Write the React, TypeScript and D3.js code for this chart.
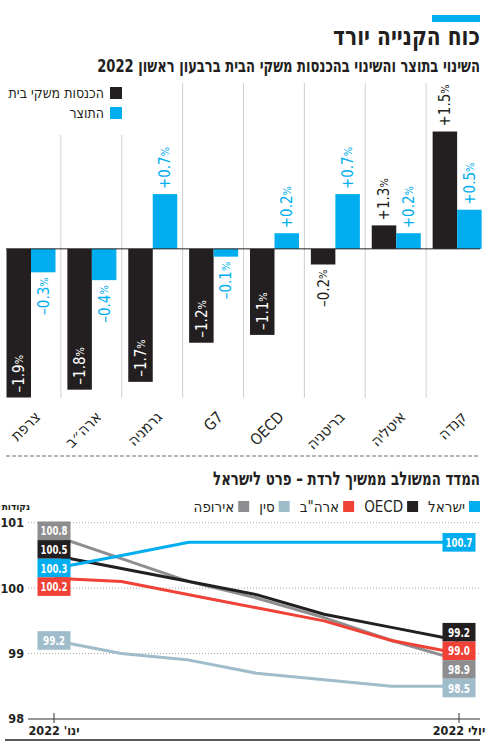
import React, { useEffect, useRef } from "react";
import * as d3 from "d3";

// ---------- Top chart data ----------
const categories = ["צרפת", "ארה״ב", "גרמניה", "G7", "OECD", "בריטניה", "איטליה", "קנדה"];
// household income change (bar heights as drawn)
const incomeChange = [-1.9, -1.8, -1.7, -1.2, -1.1, -0.2, 0.3, 1.5];
// labels as printed
const incomeLabels = ["–1.9", "–1.8", "–1.7", "–1.2", "–1.1", "–0.2", "+1.3", "+1.5"];
// GDP change
const gdpChange = [-0.3, -0.4, 0.7, -0.1, 0.2, 0.7, 0.2, 0.5];
const barLegend = ["הכנסות משקי בית", "התוצר"];

// ---------- Bottom chart data ----------
const months = ["ינו'", "פבר'", "מרץ", "אפר'", "מאי", "יוני", "יולי"];
const xTickIdx = [0, 6];
const xTickLabels = ["ינו' 2022", "יולי 2022"];
const yTicks = [98, 99, 100, 101];
const seriesNames = ["ישראל", "OECD", 'ארה"ב', "סין", "אירופה"];
const israel = [100.3, 100.5, 100.7, 100.7, 100.7, 100.7, 100.7];
const oecd = [100.5, 100.3, 100.1, 99.9, 99.6, 99.4, 99.2];
const usa = [100.15, 100.1, 99.9, 99.7, 99.5, 99.2, 99.0];
const china = [99.2, 99.0, 98.9, 98.7, 98.6, 98.5, 98.5];
const europe = [100.8, 100.45, 100.1, 99.85, 99.55, 99.2, 98.9];
const startLabels = [100.3, 100.5, 100.2, 99.2, 100.8];
const endLabels = [100.7, 99.2, 99.0, 98.5, 98.9];

const BLACK = "#231f20";
const BLUE = "#00aeef";
const RED = "#ef4136";
const LIGHT = "#9fbccb";
const GRAY = "#8e8e90";
const seriesColors = [BLUE, BLACK, RED, LIGHT, GRAY];

const FONT = "'DejaVu Sans Condensed','DejaVu Sans',sans-serif";

export default function App() {
  const ref = useRef<SVGSVGElement>(null);

  useEffect(() => {
    document.body.style.margin = "0";
    const svg = d3.select(ref.current!);
    svg.selectAll("*").remove();
    svg.style("font-family", FONT).style("font-stretch", "condensed");

    // right-aligned RTL heading, horizontally squeezed to a target width
    const fitTitle = (txt: string, yy: number, target: number, size: number) => {
      const t = svg.append("text").attr("x", 0).attr("y", 0).attr("direction", "rtl")
        .attr("text-anchor", "start").attr("font-size", size).attr("font-weight", "bold")
        .attr("fill", BLACK).text(txt);
      const w = (t.node() as SVGTextElement).getComputedTextLength();
      t.attr("transform", `translate(480,${yy}) scale(${target / w},1)`);
      return t;
    };

    // ---------- Titles ----------
    svg.append("rect").attr("x", 432).attr("y", 15).attr("width", 48).attr("height", 7).attr("fill", BLUE);
    fitTitle("כוח הקנייה יורד", 45, 147, 25);
    fitTitle("השינוי בתוצר והשינוי בהכנסות משקי הבית ברבעון ראשון 2022", 72, 383, 18.5);

    // ---------- Bar chart ----------
    const x0 = d3.scaleBand<string>().domain(categories).range([0, 487]);
    const x1 = d3.scaleBand<string>().domain(["income", "gdp"]).range([6.5, 55.5]);
    const y = d3.scaleLinear().domain([-1.9, 1.5]).range([397.5, 131.5]);
    const step = x0.step();

    const g = svg.append("g");
    for (let i = 1; i < categories.length; i++) {
      g.append("line").attr("x1", step * i).attr("x2", step * i)
        .attr("y1", i <= 2 ? 135 : 83).attr("y2", 398)
        .attr("stroke", "#cfcfcf").attr("stroke-width", 1);
    }

    // legend
    barLegend.forEach((name, i) => {
      const cy = 93 + i * 20;
      g.append("rect").attr("x", 110).attr("y", cy - 6).attr("width", 12).attr("height", 12)
        .attr("fill", i === 0 ? BLACK : BLUE);
      g.append("text").attr("x", 104).attr("y", cy).attr("dy", "0.35em").attr("text-anchor", "end")
        .attr("font-size", 14).attr("fill", BLACK).text(name);
    });

    const addLabel = (cx: number, yAnchor: number, anchor: string, txt: string, color: string) => {
      const t = g.append("text")
        .attr("transform", `translate(${cx},${yAnchor}) rotate(-90)`)
        .attr("text-anchor", anchor).attr("dy", "0.36em")
        .attr("font-size", 15).attr("fill", color);
      t.append("tspan").text(txt);
      t.append("tspan").attr("font-size", 11).attr("dy", "-0.1em").text("%");
    };

    categories.forEach((c, i) => {
      const series = [
        { key: "income", v: incomeChange[i], lab: incomeLabels[i], color: BLACK },
        { key: "gdp", v: gdpChange[i], lab: (gdpChange[i] > 0 ? "+" : "–") + Math.abs(gdpChange[i]).toFixed(1), color: BLUE },
      ];
      series.forEach((s) => {
        const bx = x0(c)! + x1(s.key)!;
        const bw = x1.bandwidth();
        const top = y(Math.max(0, s.v));
        const bot = y(Math.min(0, s.v));
        g.append("rect").attr("x", bx).attr("y", top).attr("width", bw).attr("height", bot - top).attr("fill", s.color);
        const cx = bx + bw / 2;
        if (s.v >= 0) addLabel(cx, top - 5, "start", s.lab, s.color);
        else if (s.key === "income" && s.v < -0.6) addLabel(cx, bot - 5, "start", s.lab, "#fff");
        else addLabel(cx, bot + 5, "end", s.lab, s.color);
      });
      // category label
      g.append("text")
        .attr("transform", `translate(${x0(c)! + step / 2 + 11},${418}) rotate(-45)`)
        .attr("text-anchor", "end").attr("font-size", 15.5).attr("fill", BLACK).text(c);
    });

    g.append("line").attr("x1", 6).attr("x2", 480).attr("y1", y(0)).attr("y2", y(0))
      .attr("stroke", BLACK).attr("stroke-width", 1);

    // separator
    svg.append("line").attr("x1", 6).attr("x2", 480).attr("y1", 456).attr("y2", 456)
      .attr("stroke", "#a0a0a0").attr("stroke-width", 1.5).attr("stroke-dasharray", "4,2");

    // ---------- Line chart ----------
    fitTitle("המדד המשולב ממשיך לרדת – פרט לישראל", 485, 267, 19);

    // legend
    let cursor = 480;
    seriesNames.forEach((n, i) => {
      svg.append("rect").attr("x", cursor - 11).attr("y", 501).attr("width", 11).attr("height", 11).attr("fill", seriesColors[i]);
      const t = svg.append("text").attr("x", cursor - 15).attr("y", 506.5).attr("dy", "0.35em")
        .attr("text-anchor", "end").attr("font-size", 15).attr("fill", BLACK).text(n);
      const w = (t.node() as SVGTextElement).getComputedTextLength();
      cursor = cursor - 15 - w - 10;
    });

    svg.append("text").attr("x", 30).attr("y", 506).attr("dy", "0.35em").attr("text-anchor", "end")
      .attr("font-size", 10).attr("font-weight", "bold").attr("fill", BLACK).text("נקודות");

    const xB = d3.scalePoint<number>().domain(months.map((_, i) => i)).range([54, 459]);
    const yB = d3.scaleLinear().domain([98, 101]).range([719, 522.7]);

    yTicks.forEach((t) => {
      svg.append("text").attr("x", 24).attr("y", yB(t)).attr("dy", "0.35em").attr("text-anchor", "end")
        .attr("font-size", 12.5).attr("font-weight", "bold").attr("fill", BLACK).text(t);
      if (t !== 98) {
        svg.append("line").attr("x1", 28).attr("x2", 480).attr("y1", yB(t)).attr("y2", yB(t))
          .attr("stroke", "#a8a8a8").attr("stroke-width", 1).attr("stroke-dasharray", "1,2");
      }
    });
    svg.append("line").attr("x1", 28).attr("x2", 480).attr("y1", yB(98)).attr("y2", yB(98))
      .attr("stroke", "#333").attr("stroke-width", 1);
    xTickIdx.forEach((idx, k) => {
      const xx = xB(idx)!;
      svg.append("line").attr("x1", xx).attr("x2", xx).attr("y1", 713).attr("y2", 723).attr("stroke", "#333");
      svg.append("text").attr("x", xx).attr("y", 735).attr("direction", "rtl").attr("text-anchor", "middle")
        .attr("font-size", 12.5).attr("font-weight", "bold").attr("fill", BLACK).text(xTickLabels[k]);
    });

    const allSeries = [israel, oecd, usa, china, europe];
    const drawOrder = [4, 3, 1, 2, 0];
    const line = d3.line<number>().x((_, i) => xB(i)!).y((d) => yB(d));
    drawOrder.forEach((si) => {
      svg.append("path").attr("d", line(allSeries[si])!).attr("fill", "none")
        .attr("stroke", seriesColors[si]).attr("stroke-width", 3).attr("stroke-linejoin", "round");
    });

    // label boxes with collision avoidance
    const BH = 18.6, BW = 33;
    const placeLabels = (vals: number[]) => {
      const items = vals.map((v, i) => ({ i, v, want: yB(v) })).sort((a, b) => a.want - b.want);
      let clusters = items.map((it) => ({ items: [it], center: it.want }));
      let changed = true;
      while (changed) {
        changed = false;
        for (let k = 0; k < clusters.length - 1; k++) {
          const a = clusters[k], b = clusters[k + 1];
          const aBottom = a.center + (a.items.length * BH) / 2;
          const bTop = b.center - (b.items.length * BH) / 2;
          if (aBottom > bTop) {
            const items2 = a.items.concat(b.items);
            const center = d3.mean(items2, (d) => d.want)!;
            clusters.splice(k, 2, { items: items2, center });
            changed = true;
            break;
          }
        }
      }
      const out: { i: number; v: number; cy: number }[] = [];
      clusters.forEach((c) => {
        const top = c.center - (c.items.length * BH) / 2;
        c.items.forEach((it, j) => out.push({ i: it.i, v: it.v, cy: top + BH * (j + 0.5) }));
      });
      return out;
    };
    const drawBoxes = (vals: number[], xx: number) => {
      placeLabels(vals).forEach((p) => {
        svg.append("rect").attr("x", xx - BW / 2).attr("y", p.cy - BH / 2).attr("width", BW).attr("height", BH)
          .attr("fill", seriesColors[p.i]);
        svg.append("text").attr("x", xx).attr("y", p.cy).attr("dy", "0.36em").attr("text-anchor", "middle")
          .attr("font-size", 13).attr("font-weight", "bold").attr("fill", "#fff")
          .attr("textLength", p.v >= 100 ? 27 : 22).attr("lengthAdjust", "spacingAndGlyphs")
          .text(p.v.toFixed(1));
      });
    };
    drawBoxes(startLabels, xB(0)!);
    drawBoxes(endLabels, xB(6)!);

    svg.append("line").attr("x1", 5).attr("x2", 480).attr("y1", 740).attr("y2", 740)
      .attr("stroke", BLACK).attr("stroke-width", 1.5);
  }, []);

  return <svg ref={ref} width={490} height={745} style={{ display: "block", background: "#fff" }} />;
}
